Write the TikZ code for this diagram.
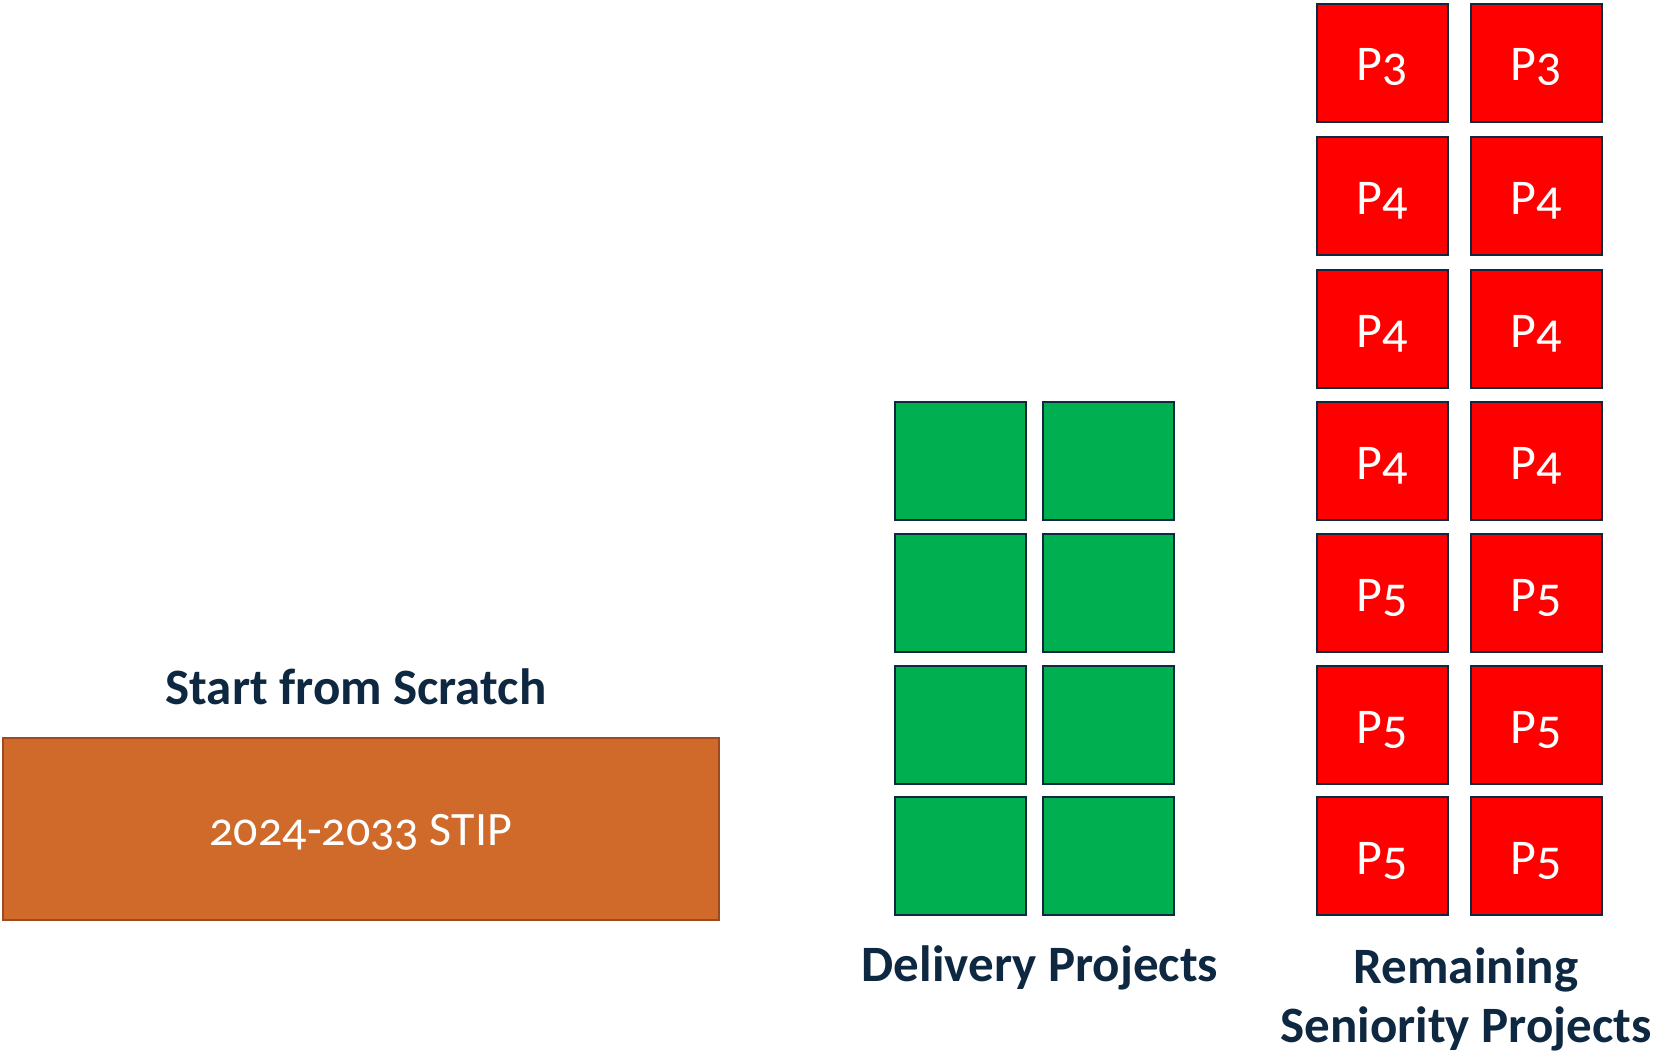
\documentclass[tikz,border=0pt]{standalone}
\usepackage{fontspec}
\setmainfont{Carlito}[Numbers=OldStyle]
\definecolor{navy}{HTML}{0E2841}
\definecolor{gfill}{HTML}{00B050}
\definecolor{rfill}{HTML}{FF0000}
\definecolor{ofill}{HTML}{D06A2B}
\definecolor{oborder}{HTML}{9C4A1E}
\tikzset{
  gbox/.style={draw=navy, line width=2pt, fill=gfill, minimum width=131pt, minimum height=118pt, inner sep=0pt, anchor=north west},
  rbox/.style={draw=navy, line width=2pt, fill=rfill, minimum width=131pt, minimum height=118pt, inner sep=0pt, anchor=north west, text=white, font=\fontsize{50}{56}\selectfont, text height=36pt, text depth=0pt},
  title/.style={text=navy, font=\fontsize{51}{60}\selectfont\bfseries, align=center},
}
\begin{document}
\begin{tikzpicture}[x=1pt,y=-1pt]
\useasboundingbox (0,0) rectangle (1654,1054);
\fill[white] (0,0) rectangle (1654,1054);
% orange bar
\node[draw=oborder, line width=1.5pt, fill=ofill, minimum width=716pt, minimum height=182pt, inner sep=0pt, anchor=north west, text=white, font=\fontsize{48}{56}\selectfont, text height=34pt, text depth=0pt] (stip) at (2,737) {2024-2033 STIP};
\node[title, anchor=south] (scratch) at (356,708) {Start from Scratch};
% green boxes
\foreach \r/\y in {1/401,2/533,3/665,4/796}{
  \node[gbox] (g\r a) at (894,\y) {};
  \node[gbox] (g\r b) at (1042,\y) {};
}
% red boxes
\foreach \r/\y/\t in {1/3/3,2/136/4,3/269/4,4/401/4,5/533/5,6/665/5,7/796/5}{
  \node[rbox] (r\r a) at (1316,\y) {P\t};
  \node[rbox] (r\r b) at (1470,\y) {P\t};
}
\node[title, anchor=north] (deliv) at (1040,942) {Delivery Projects};
\node[title, anchor=north] (remain) at (1466,944) {Remaining\\[-1pt]Seniority Projects};
\end{tikzpicture}
\end{document}
